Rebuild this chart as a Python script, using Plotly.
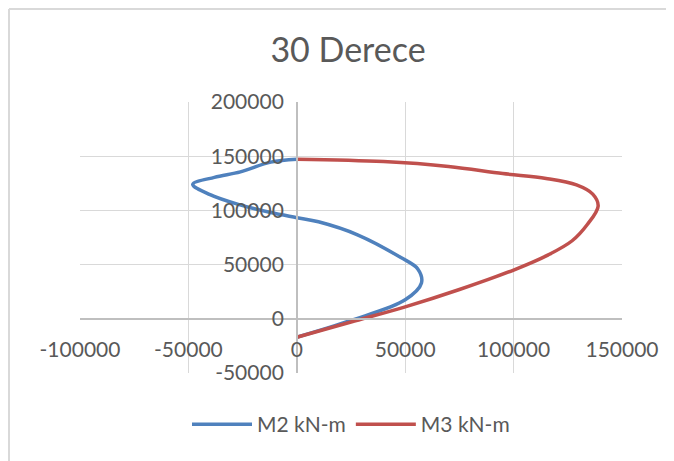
import plotly.graph_objects as go

# M2 kN-m (x = moment, y = axial)
m2_x = [0, 25000, 50000, 57500, 55800, 48000, 28000, 10000, 0, -12000, -27000, -40000, -48000, -38000, -26000, -12000, 0]
m2_y = [-17000, -1500, 17500, 33000, 46000, 56500, 77500, 89500, 93300, 98000, 105500, 114500, 124000, 130500, 135500, 144500, 147200]

# M3 kN-m
m3_x = [0, 25000, 50000, 75000, 100000, 116000, 127000, 134000, 139000, 136500, 129000, 115000, 95000, 70000, 40000, 0]
m3_y = [-17000, -3000, 11000, 27000, 45000, 59000, 72000, 87000, 104000, 115000, 123500, 129500, 134000, 140500, 145000, 147200]

x_ticks = [-100000, -50000, 0, 50000, 100000, 150000]
x_tick_text = ["-100000", "-50000", "0", "50000", "100000", "150000"]
y_ticks = [-50000, 0, 50000, 100000, 150000, 200000]
y_tick_text = ["-50000", "0", "50000", "100000", "150000", "200000"]

FONT = "Lato, Open Sans, sans-serif"
TXT = "#595959"
GRID = "#d9d9d9"

fig = go.Figure()
fig.add_trace(go.Scatter(x=m2_x, y=m2_y, mode="lines", name="M2 kN-m",
                         line=dict(color="#4F81BD", width=3.5, shape="spline", smoothing=1.0)))
fig.add_trace(go.Scatter(x=m3_x, y=m3_y, mode="lines", name="M3 kN-m",
                         line=dict(color="#C0504D", width=3.5, shape="spline", smoothing=1.0)))

bx = (1 - 72) / 542
by = 1 + (94 - 1) / 271
fig.update_layout(
    template="none",
    width=666, height=453,
    margin=dict(l=72, r=52, t=94, b=88),
    paper_bgcolor="white", plot_bgcolor="white",
    title=dict(text="30 Derece", x=(348 - 8) / 666, xanchor="center", y=1 - 42 / 453, yanchor="middle",
               yref="container", font=dict(family=FONT, size=34, color=TXT)),
    font=dict(family=FONT, color=TXT),
    legend=dict(orientation="h", x=0.5, xanchor="center", y=-0.19, yanchor="middle",
                itemwidth=60, font=dict(family=FONT, size=21, color=TXT), bgcolor="rgba(0,0,0,0)"),
    xaxis=dict(range=[-100000, 150000], tickmode="array", tickvals=x_ticks, ticktext=x_tick_text,
               showgrid=True, gridcolor=GRID, gridwidth=1.3, zeroline=False,
               showline=True, linecolor="#bfbfbf", linewidth=1.5,
               anchor="free", position=0.2, ticks="", ticklabelstandoff=12,
               tickfont=dict(family=FONT, size=21, color=TXT), automargin=False, domain=[0, 1]),
    yaxis=dict(range=[-50000, 200000], tickmode="array", tickvals=y_ticks, ticktext=y_tick_text,
               showgrid=True, gridcolor=GRID, gridwidth=1.3, zeroline=False,
               showline=True, linecolor="#bfbfbf", linewidth=1.5,
               anchor="free", position=0.4, ticks="", ticklabelstandoff=8,
               tickfont=dict(family=FONT, size=21, color=TXT), automargin=False, domain=[0, 1]),
    shapes=[
        dict(type="line", xref="paper", yref="paper", x0=bx, x1=2.0, y0=by, y1=by,
             line=dict(color="#d9d9d9", width=2), layer="below"),
        dict(type="line", xref="paper", yref="paper", x0=bx, x1=bx, y0=by, y1=-1.0,
             line=dict(color="#d9d9d9", width=2), layer="below"),
    ],
    showlegend=True,
)

fig.write_html("out.html")
